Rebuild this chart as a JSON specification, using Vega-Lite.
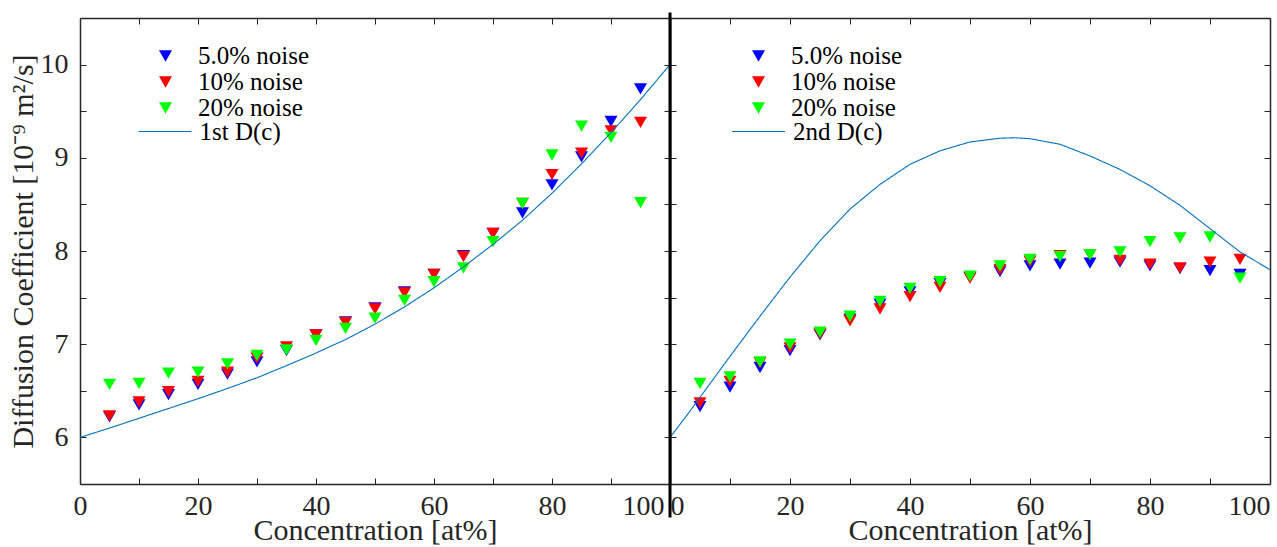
{
  "$schema": "https://vega.github.io/schema/vega-lite/v6.json",
  "background": "white",
  "padding": {"left": 8, "top": 10, "right": 5, "bottom": 0},
  "bounds": "flush",
  "spacing": 0,
  "config": {
    "font": "Liberation Serif",
    "view": {"stroke": null},
    "axis": {
      "grid": false,
      "domainColor": "#262626",
      "domainWidth": 1.5,
      "tickColor": "#262626",
      "tickSize": -6,
      "tickWidth": 1,
      "labelColor": "#262626",
      "labelFont": "Liberation Serif",
      "labelFontSize": 28,
      "titleFont": "Liberation Serif",
      "titleFontSize": 30,
      "titleFontWeight": "normal",
      "titleColor": "#262626"
    },
    "legend": {
      "labelFont": "Liberation Serif",
      "labelFontSize": 25,
      "labelColor": "#000000",
      "rowPadding": 0,
      "padding": 0,
      "title": null
    }
  },
  "datasets": {
    "pts1": [
      {"c": 5, "D": 6.22, "series": "5.0% noise"},
      {"c": 10, "D": 6.35, "series": "5.0% noise"},
      {"c": 15, "D": 6.46, "series": "5.0% noise"},
      {"c": 20, "D": 6.57, "series": "5.0% noise"},
      {"c": 25, "D": 6.68, "series": "5.0% noise"},
      {"c": 30, "D": 6.81, "series": "5.0% noise"},
      {"c": 35, "D": 6.93, "series": "5.0% noise"},
      {"c": 40, "D": 7.10, "series": "5.0% noise"},
      {"c": 45, "D": 7.24, "series": "5.0% noise"},
      {"c": 50, "D": 7.39, "series": "5.0% noise"},
      {"c": 55, "D": 7.56, "series": "5.0% noise"},
      {"c": 60, "D": 7.75, "series": "5.0% noise"},
      {"c": 65, "D": 7.95, "series": "5.0% noise"},
      {"c": 70, "D": 8.19, "series": "5.0% noise"},
      {"c": 75, "D": 8.41, "series": "5.0% noise"},
      {"c": 80, "D": 8.71, "series": "5.0% noise"},
      {"c": 85, "D": 9.01, "series": "5.0% noise"},
      {"c": 90, "D": 9.39, "series": "5.0% noise"},
      {"c": 95, "D": 9.74, "series": "5.0% noise"},
      {"c": 5, "D": 6.23, "series": "10% noise"},
      {"c": 10, "D": 6.38, "series": "10% noise"},
      {"c": 15, "D": 6.49, "series": "10% noise"},
      {"c": 20, "D": 6.60, "series": "10% noise"},
      {"c": 25, "D": 6.70, "series": "10% noise"},
      {"c": 30, "D": 6.85, "series": "10% noise"},
      {"c": 35, "D": 6.97, "series": "10% noise"},
      {"c": 40, "D": 7.10, "series": "10% noise"},
      {"c": 45, "D": 7.23, "series": "10% noise"},
      {"c": 50, "D": 7.38, "series": "10% noise"},
      {"c": 55, "D": 7.55, "series": "10% noise"},
      {"c": 60, "D": 7.75, "series": "10% noise"},
      {"c": 65, "D": 7.94, "series": "10% noise"},
      {"c": 70, "D": 8.19, "series": "10% noise"},
      {"c": 75, "D": 8.51, "series": "10% noise"},
      {"c": 80, "D": 8.82, "series": "10% noise"},
      {"c": 85, "D": 9.05, "series": "10% noise"},
      {"c": 90, "D": 9.29, "series": "10% noise"},
      {"c": 95, "D": 9.38, "series": "10% noise"},
      {"c": 5, "D": 6.57, "series": "20% noise"},
      {"c": 10, "D": 6.58, "series": "20% noise"},
      {"c": 15, "D": 6.69, "series": "20% noise"},
      {"c": 20, "D": 6.70, "series": "20% noise"},
      {"c": 25, "D": 6.79, "series": "20% noise"},
      {"c": 30, "D": 6.88, "series": "20% noise"},
      {"c": 35, "D": 6.94, "series": "20% noise"},
      {"c": 40, "D": 7.04, "series": "20% noise"},
      {"c": 45, "D": 7.17, "series": "20% noise"},
      {"c": 50, "D": 7.28, "series": "20% noise"},
      {"c": 55, "D": 7.47, "series": "20% noise"},
      {"c": 60, "D": 7.67, "series": "20% noise"},
      {"c": 65, "D": 7.82, "series": "20% noise"},
      {"c": 70, "D": 8.10, "series": "20% noise"},
      {"c": 75, "D": 8.51, "series": "20% noise"},
      {"c": 80, "D": 9.03, "series": "20% noise"},
      {"c": 85, "D": 9.34, "series": "20% noise"},
      {"c": 90, "D": 9.22, "series": "20% noise"},
      {"c": 95, "D": 8.52, "series": "20% noise"}
    ],
    "line1": [
      {"c": 0, "D": 6.0, "name": "1st D(c)"}, {"c": 5, "D": 6.1, "name": "1st D(c)"}, {"c": 10, "D": 6.205, "name": "1st D(c)"},
      {"c": 15, "D": 6.31, "name": "1st D(c)"}, {"c": 20, "D": 6.415, "name": "1st D(c)"}, {"c": 25, "D": 6.525, "name": "1st D(c)"},
      {"c": 30, "D": 6.64, "name": "1st D(c)"}, {"c": 35, "D": 6.77, "name": "1st D(c)"}, {"c": 40, "D": 6.905, "name": "1st D(c)"},
      {"c": 45, "D": 7.05, "name": "1st D(c)"}, {"c": 50, "D": 7.215, "name": "1st D(c)"}, {"c": 55, "D": 7.4, "name": "1st D(c)"},
      {"c": 60, "D": 7.605, "name": "1st D(c)"}, {"c": 65, "D": 7.83, "name": "1st D(c)"}, {"c": 70, "D": 8.07, "name": "1st D(c)"},
      {"c": 75, "D": 8.33, "name": "1st D(c)"}, {"c": 80, "D": 8.62, "name": "1st D(c)"}, {"c": 85, "D": 8.935, "name": "1st D(c)"},
      {"c": 90, "D": 9.27, "name": "1st D(c)"}, {"c": 95, "D": 9.625, "name": "1st D(c)"}, {"c": 100, "D": 10.0, "name": "1st D(c)"}
    ],
    "pts2": [
      {"c": 5, "D": 6.33, "series": "5.0% noise"},
      {"c": 10, "D": 6.54, "series": "5.0% noise"},
      {"c": 15, "D": 6.75, "series": "5.0% noise"},
      {"c": 20, "D": 6.93, "series": "5.0% noise"},
      {"c": 25, "D": 7.10, "series": "5.0% noise"},
      {"c": 30, "D": 7.27, "series": "5.0% noise"},
      {"c": 35, "D": 7.43, "series": "5.0% noise"},
      {"c": 40, "D": 7.56, "series": "5.0% noise"},
      {"c": 45, "D": 7.65, "series": "5.0% noise"},
      {"c": 50, "D": 7.72, "series": "5.0% noise"},
      {"c": 55, "D": 7.78, "series": "5.0% noise"},
      {"c": 60, "D": 7.84, "series": "5.0% noise"},
      {"c": 65, "D": 7.86, "series": "5.0% noise"},
      {"c": 70, "D": 7.87, "series": "5.0% noise"},
      {"c": 75, "D": 7.88, "series": "5.0% noise"},
      {"c": 80, "D": 7.84, "series": "5.0% noise"},
      {"c": 85, "D": 7.81, "series": "5.0% noise"},
      {"c": 90, "D": 7.79, "series": "5.0% noise"},
      {"c": 95, "D": 7.75, "series": "5.0% noise"},
      {"c": 5, "D": 6.37, "series": "10% noise"},
      {"c": 10, "D": 6.60, "series": "10% noise"},
      {"c": 15, "D": 6.80, "series": "10% noise"},
      {"c": 20, "D": 6.96, "series": "10% noise"},
      {"c": 25, "D": 7.11, "series": "10% noise"},
      {"c": 30, "D": 7.25, "series": "10% noise"},
      {"c": 35, "D": 7.38, "series": "10% noise"},
      {"c": 40, "D": 7.51, "series": "10% noise"},
      {"c": 45, "D": 7.61, "series": "10% noise"},
      {"c": 50, "D": 7.71, "series": "10% noise"},
      {"c": 55, "D": 7.80, "series": "10% noise"},
      {"c": 60, "D": 7.89, "series": "10% noise"},
      {"c": 65, "D": 7.95, "series": "10% noise"},
      {"c": 70, "D": 7.96, "series": "10% noise"},
      {"c": 75, "D": 7.90, "series": "10% noise"},
      {"c": 80, "D": 7.86, "series": "10% noise"},
      {"c": 85, "D": 7.82, "series": "10% noise"},
      {"c": 90, "D": 7.88, "series": "10% noise"},
      {"c": 95, "D": 7.91, "series": "10% noise"},
      {"c": 5, "D": 6.58, "series": "20% noise"},
      {"c": 10, "D": 6.65, "series": "20% noise"},
      {"c": 15, "D": 6.81, "series": "20% noise"},
      {"c": 20, "D": 7.00, "series": "20% noise"},
      {"c": 25, "D": 7.13, "series": "20% noise"},
      {"c": 30, "D": 7.30, "series": "20% noise"},
      {"c": 35, "D": 7.46, "series": "20% noise"},
      {"c": 40, "D": 7.60, "series": "20% noise"},
      {"c": 45, "D": 7.67, "series": "20% noise"},
      {"c": 50, "D": 7.73, "series": "20% noise"},
      {"c": 55, "D": 7.84, "series": "20% noise"},
      {"c": 60, "D": 7.91, "series": "20% noise"},
      {"c": 65, "D": 7.94, "series": "20% noise"},
      {"c": 70, "D": 7.96, "series": "20% noise"},
      {"c": 75, "D": 7.99, "series": "20% noise"},
      {"c": 80, "D": 8.10, "series": "20% noise"},
      {"c": 85, "D": 8.14, "series": "20% noise"},
      {"c": 90, "D": 8.15, "series": "20% noise"},
      {"c": 95, "D": 7.71, "series": "20% noise"}
    ],
    "line2": [
      {"c": 0, "D": 6.0, "name": "2nd D(c)"}, {"c": 2.5, "D": 6.21, "name": "2nd D(c)"}, {"c": 5, "D": 6.43, "name": "2nd D(c)"},
      {"c": 7.5, "D": 6.65, "name": "2nd D(c)"}, {"c": 10, "D": 6.87, "name": "2nd D(c)"}, {"c": 15, "D": 7.30, "name": "2nd D(c)"},
      {"c": 20, "D": 7.72, "name": "2nd D(c)"}, {"c": 25, "D": 8.11, "name": "2nd D(c)"}, {"c": 30, "D": 8.45, "name": "2nd D(c)"},
      {"c": 35, "D": 8.715, "name": "2nd D(c)"}, {"c": 40, "D": 8.93, "name": "2nd D(c)"}, {"c": 45, "D": 9.075, "name": "2nd D(c)"},
      {"c": 50, "D": 9.17, "name": "2nd D(c)"}, {"c": 55, "D": 9.21, "name": "2nd D(c)"}, {"c": 57.5, "D": 9.215, "name": "2nd D(c)"},
      {"c": 60, "D": 9.205, "name": "2nd D(c)"}, {"c": 65, "D": 9.145, "name": "2nd D(c)"}, {"c": 70, "D": 9.02, "name": "2nd D(c)"},
      {"c": 75, "D": 8.875, "name": "2nd D(c)"}, {"c": 80, "D": 8.70, "name": "2nd D(c)"}, {"c": 85, "D": 8.49, "name": "2nd D(c)"},
      {"c": 90, "D": 8.24, "name": "2nd D(c)"}, {"c": 95, "D": 7.99, "name": "2nd D(c)"}, {"c": 100, "D": 7.80, "name": "2nd D(c)"}
    ],
    "sep": [{"c": 0, "lo": 5.14, "hi": 10.56}]
  },
  "hconcat": [
    {
      "width": 590,
      "height": 466,
      "layer": [
        {
          "data": {"name": "pts1"},
          "mark": {"type": "point", "filled": true, "size": 170, "opacity": 1},
          "encoding": {
            "x": {"field": "c", "type": "quantitative", "scale": {"domain": [0, 100], "nice": false, "zero": false},
                  "axis": {"orient": "top", "labels": false, "title": null, "values": [0, 10, 20, 30, 40, 50, 60, 70, 80, 90, 100]}},
            "y": {"field": "D", "type": "quantitative", "scale": {"domain": [5.5, 10.5], "nice": false, "zero": false},
                  "axis": {"orient": "right", "labels": false, "title": null, "values": [6, 6.5, 7, 7.5, 8, 8.5, 9, 9.5, 10]}},
            "color": {"field": "series", "type": "nominal",
                      "scale": {"domain": ["5.0% noise", "10% noise", "20% noise"], "range": ["#0000FF", "#FF0000", "#00FF00"]},
                      "legend": {"orient": "none", "legendX": 73, "legendY": 25.5, "title": null, "labelOffset": 20, "symbolSize": 170}},
            "shape": {"field": "series", "type": "nominal",
                      "scale": {"domain": ["5.0% noise", "10% noise", "20% noise"], "range": ["triangle-down", "triangle-down", "triangle-down"]},
                      "legend": {"orient": "none", "legendX": 73, "legendY": 25.5, "title": null, "labelOffset": 20, "symbolSize": 170}}
          }
        },
        {
          "data": {"name": "line1"},
          "mark": {"type": "line", "color": "#0072BD", "strokeWidth": 1.1},
          "encoding": {
            "x": {"field": "c", "type": "quantitative", "scale": {"domain": [0, 100], "nice": false, "zero": false},
                  "axis": {"orient": "bottom", "title": "Concentration [at%]", "titlePadding": -5, "labelPadding": 14,
                           "values": [0, 10, 20, 30, 40, 50, 60, 70, 80, 90, 100],
                           "labelExpr": "datum.value % 20 === 0 ? datum.label : ''",
                           "labelAlign": {"condition": {"test": "datum.value === 100", "value": "right"}, "value": "center"},
                           "labelOffset": {"condition": {"test": "datum.value === 100", "value": -6}, "value": 0}}},
            "y": {"field": "D", "type": "quantitative", "scale": {"domain": [5.5, 10.5], "nice": false, "zero": false},
                  "axis": {"orient": "left", "title": "Diffusion Coefficient [10⁻⁹ m²/s]", "titlePadding": 2, "labelPadding": 18,
                           "values": [6, 6.5, 7, 7.5, 8, 8.5, 9, 9.5, 10],
                           "labelExpr": "datum.value % 1 === 0 ? format(datum.value, 'd') : ''"}},
            "strokeDash": {"field": "name", "type": "nominal",
                           "scale": {"domain": ["1st D(c)"], "range": [[1, 0]]},
                           "legend": {"orient": "none", "legendX": 57.5, "legendY": 86, "title": null, "labelOffset": 7,
                                      "symbolType": "stroke", "symbolSize": 2809, "symbolStrokeWidth": 1.1, "symbolStrokeColor": "#0072BD"}}
          }
        }
      ],
      "resolve": {"axis": {"x": "independent", "y": "independent"}}
    },
    {
      "width": 600,
      "height": 466,
      "layer": [
        {
          "data": {"name": "pts2"},
          "mark": {"type": "point", "filled": true, "size": 170, "opacity": 1},
          "encoding": {
            "x": {"field": "c", "type": "quantitative", "scale": {"domain": [0, 100], "nice": false, "zero": false},
                  "axis": {"orient": "top", "labels": false, "title": null, "values": [0, 10, 20, 30, 40, 50, 60, 70, 80, 90, 100]}},
            "y": {"field": "D", "type": "quantitative", "scale": {"domain": [5.5, 10.5], "nice": false, "zero": false},
                  "axis": {"orient": "right", "labels": false, "title": null, "values": [6, 6.5, 7, 7.5, 8, 8.5, 9, 9.5, 10]}},
            "color": {"field": "series", "type": "nominal",
                      "scale": {"domain": ["5.0% noise", "10% noise", "20% noise"], "range": ["#0000FF", "#FF0000", "#00FF00"]},
                      "legend": {"orient": "none", "legendX": 76, "legendY": 25.5, "title": null, "labelOffset": 20, "symbolSize": 170}},
            "shape": {"field": "series", "type": "nominal",
                      "scale": {"domain": ["5.0% noise", "10% noise", "20% noise"], "range": ["triangle-down", "triangle-down", "triangle-down"]},
                      "legend": {"orient": "none", "legendX": 76, "legendY": 25.5, "title": null, "labelOffset": 20, "symbolSize": 170}}
          }
        },
        {
          "data": {"name": "line2"},
          "mark": {"type": "line", "color": "#0072BD", "strokeWidth": 1.1},
          "encoding": {
            "x": {"field": "c", "type": "quantitative", "scale": {"domain": [0, 100], "nice": false, "zero": false},
                  "axis": {"orient": "bottom", "title": "Concentration [at%]", "titlePadding": -5, "labelPadding": 14,
                           "values": [0, 10, 20, 30, 40, 50, 60, 70, 80, 90, 100],
                           "labelExpr": "datum.value % 20 === 0 ? datum.label : ''",
                           "labelFlush": true}},
            "y": {"field": "D", "type": "quantitative", "scale": {"domain": [5.5, 10.5], "nice": false, "zero": false},
                  "axis": {"orient": "left", "labels": false, "title": null,
                           "values": [6, 6.5, 7, 7.5, 8, 8.5, 9, 9.5, 10]}},
            "strokeDash": {"field": "name", "type": "nominal",
                           "scale": {"domain": ["2nd D(c)"], "range": [[1, 0]]},
                           "legend": {"orient": "none", "legendX": 61, "legendY": 86, "title": null, "labelOffset": 7,
                                      "symbolType": "stroke", "symbolSize": 2809, "symbolStrokeWidth": 1.1, "symbolStrokeColor": "#0072BD"}}
          }
        },
        {
          "data": {"name": "sep"},
          "mark": {"type": "rule", "color": "#000000", "strokeWidth": 3},
          "encoding": {
            "x": {"field": "c", "type": "quantitative", "axis": null},
            "y": {"field": "lo", "type": "quantitative", "axis": null},
            "y2": {"field": "hi"}
          }
        }
      ],
      "resolve": {"axis": {"x": "independent", "y": "independent"}}
    }
  ],
  "resolve": {
    "scale": {"color": "independent", "shape": "independent", "strokeDash": "independent"},
    "legend": {"color": "independent", "shape": "independent", "strokeDash": "independent"}
  }
}
